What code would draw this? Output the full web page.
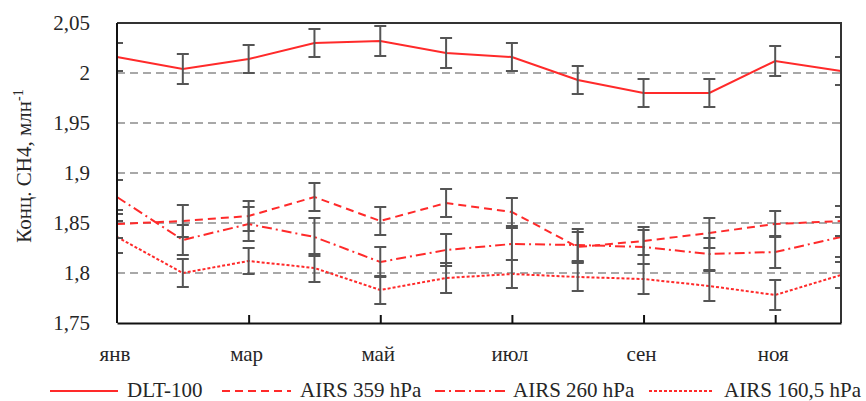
<!DOCTYPE html>
<html>
<head>
<meta charset="utf-8">
<script src="https://cdn.jsdelivr.net/npm/d3@7"></script>
<style>
  body { margin: 0; background: #fff; }
</style>
</head>
<body>
<div id="chart"></div>
<script>
const months = ["янв", "фев", "мар", "апр", "май", "июн", "июл", "авг", "сен", "окт", "ноя", "дек"];
const monthLabels = ["янв", "мар", "май", "июл", "сен", "ноя"];
const yTicks = [1.75, 1.8, 1.85, 1.9, 1.95, 2, 2.05];
const gridValues = [1.8, 1.85, 1.9, 1.95, 2];

const dlt = [2.016, 2.004, 2.014, 2.030, 2.032, 2.020, 2.016, 1.993, 1.980, 1.980, 2.012, 2.002];
const dltErr = [0.014, 0.015, 0.014, 0.014, 0.015, 0.015, 0.014, 0.014, 0.014, 0.014, 0.015, 0.014];
const airs359 = [1.849, 1.852, 1.857, 1.876, 1.852, 1.870, 1.861, 1.826, 1.832, 1.840, 1.849, 1.852];
const airs359Err = [0.014, 0.016, 0.015, 0.014, 0.014, 0.014, 0.014, 0.015, 0.014, 0.015, 0.013, 0.015];
const airs260 = [1.876, 1.833, 1.849, 1.836, 1.811, 1.823, 1.829, 1.828, 1.826, 1.819, 1.821, 1.836];
const airs260Err = [0.017, 0.015, 0.017, 0.019, 0.015, 0.016, 0.016, 0.016, 0.017, 0.016, 0.016, 0.02];
const airs160 = [1.836, 1.800, 1.812, 1.805, 1.783, 1.795, 1.799, 1.796, 1.794, 1.787, 1.778, 1.798];
const airs160Err = [0.016, 0.014, 0.013, 0.014, 0.014, 0.015, 0.014, 0.014, 0.015, 0.015, 0.015, 0.013];

const seriesNames = ["DLT-100", "AIRS 359 hPa", "AIRS 260 hPa", "AIRS 160,5 hPa"];

const series = [
  { name: seriesNames[0], values: dlt, err: dltErr, dash: null },
  { name: seriesNames[1], values: airs359, err: airs359Err, dash: "8,5" },
  { name: seriesNames[2], values: airs260, err: airs260Err, dash: "10,4,2,4" },
  { name: seriesNames[3], values: airs160, err: airs160Err, dash: "3,2" }
];

const width = 866;
const height = 401;
const margin = { top: 23, right: 25, bottom: 78, left: 117 };
const red = "#ff2a2a";
const serif = `"Liberation Serif", "Noto Serif", serif`;
const fontSize = "21px";

const svg = d3
  .select("#chart")
  .append("svg")
  .attr("width", width)
  .attr("height", height)
  .attr("font-family", serif);

svg
  .append("clipPath")
  .attr("id", "plotClip")
  .append("rect")
  .attr("x", margin.left)
  .attr("y", 0)
  .attr("width", width - margin.left - margin.right)
  .attr("height", height);

const x = d3
  .scalePoint()
  .domain(months)
  .range([margin.left, width - margin.right]);

const y = d3
  .scaleLinear()
  .domain([1.75, 2.05])
  .range([height - margin.bottom, margin.top]);

// gridlines
svg
  .append("g")
  .selectAll("line")
  .data(gridValues)
  .enter()
  .append("line")
  .attr("x1", margin.left)
  .attr("x2", width - margin.right)
  .attr("y1", d => y(d))
  .attr("y2", d => y(d))
  .style("stroke", "#8c8c8c")
  .style("stroke-width", 1.5)
  .style("stroke-dasharray", "8,5");

// series lines
const line = d3
  .line()
  .x((d, i) => x(months[i]))
  .y(d => y(d));

svg
  .append("g")
  .selectAll("path")
  .data(series)
  .enter()
  .append("path")
  .attr("d", d => line(d.values))
  .style("fill", "none")
  .style("stroke", red)
  .style("stroke-width", 2)
  .style("stroke-dasharray", d => d.dash);

// error bars, clipped to the plot so Jan/Dec show half caps
const errData = [];
series.forEach(s => {
  s.values.forEach((v, i) => {
    errData.push({ month: months[i], lo: v - s.err[i], hi: v + s.err[i] });
  });
});

const errG = svg
  .append("g")
  .attr("clip-path", "url(#plotClip)")
  .style("stroke", "#555")
  .style("stroke-width", 2);

errG
  .selectAll(".bar")
  .data(errData)
  .enter()
  .append("line")
  .attr("x1", d => x(d.month))
  .attr("x2", d => x(d.month))
  .attr("y1", d => y(d.lo))
  .attr("y2", d => y(d.hi));

errG
  .selectAll(".cap")
  .data(errData.flatMap(d => [{ month: d.month, v: d.lo }, { month: d.month, v: d.hi }]))
  .enter()
  .append("line")
  .attr("x1", d => x(d.month) - 6)
  .attr("x2", d => x(d.month) + 6)
  .attr("y1", d => y(d.v))
  .attr("y2", d => y(d.v));

// frame: top and right in dark grey, left and bottom axes in black
svg
  .append("path")
  .attr("d", `M${margin.left},${margin.top}H${width - margin.right}V${height - margin.bottom}`)
  .style("fill", "none")
  .style("stroke", "#333")
  .style("stroke-width", 2);

const xAxis = d3
  .axisBottom(x)
  .tickValues(monthLabels)
  .tickSizeInner(-8)
  .tickSizeOuter(0)
  .tickFormat("");

svg
  .append("g")
  .attr("transform", `translate(0, ${height - margin.bottom})`)
  .call(xAxis)
  .call(g => g.select(".domain").style("stroke", "#111").style("stroke-width", 2))
  .call(g => g.selectAll(".tick line").style("stroke", "#111").style("stroke-width", 2))
  .call(g => g.selectAll(".tick").filter(d => d === "янв").remove());

svg
  .append("line")
  .attr("x1", margin.left)
  .attr("x2", margin.left)
  .attr("y1", margin.top)
  .attr("y2", height - margin.bottom)
  .style("stroke", "#111")
  .style("stroke-width", 2);

// x labels
svg
  .append("g")
  .selectAll("text")
  .data(monthLabels)
  .enter()
  .append("text")
  .attr("x", d => x(d) - 2)
  .attr("y", 361)
  .attr("text-anchor", "middle")
  .style("font-family", serif)
  .style("font-size", fontSize)
  .style("fill", "#262626")
  .text(d => d);

// y labels
svg
  .append("g")
  .selectAll("text")
  .data(yTicks)
  .enter()
  .append("text")
  .attr("x", 90)
  .attr("y", d => y(d))
  .attr("dy", "0.35em")
  .attr("text-anchor", "end")
  .style("font-family", serif)
  .style("font-size", fontSize)
  .style("fill", "#262626")
  .text(d => d3.format(",")(d).replace(".", ","));

// y title
const title = svg
  .append("text")
  .attr("transform", "translate(31, 166) rotate(-90)")
  .attr("text-anchor", "middle")
  .style("font-family", serif)
  .style("font-size", fontSize)
  .style("fill", "#262626");
title.append("tspan").text("Конц. CH4, млн");
title.append("tspan").attr("dy", -8).style("font-size", "14px").text("-1");

// legend
const legendItems = [
  { x1: 50, x2: 118, tx: 127 },
  { x1: 222, x2: 291, tx: 300 },
  { x1: 435, x2: 507, tx: 513 },
  { x1: 649, x2: 714, tx: 724 }
];

const legend = svg
  .append("g")
  .selectAll("g")
  .data(series)
  .enter()
  .append("g");

legend
  .append("line")
  .attr("x1", (d, i) => legendItems[i].x1)
  .attr("x2", (d, i) => legendItems[i].x2)
  .attr("y1", 391)
  .attr("y2", 391)
  .style("stroke", red)
  .style("stroke-width", 2)
  .style("stroke-dasharray", d => d.dash);

legend
  .append("text")
  .attr("x", (d, i) => legendItems[i].tx)
  .attr("y", 397)
  .style("font-family", serif)
  .style("font-size", fontSize)
  .style("fill", "#262626")
  .text(d => d.name);
</script>
</body>
</html>
